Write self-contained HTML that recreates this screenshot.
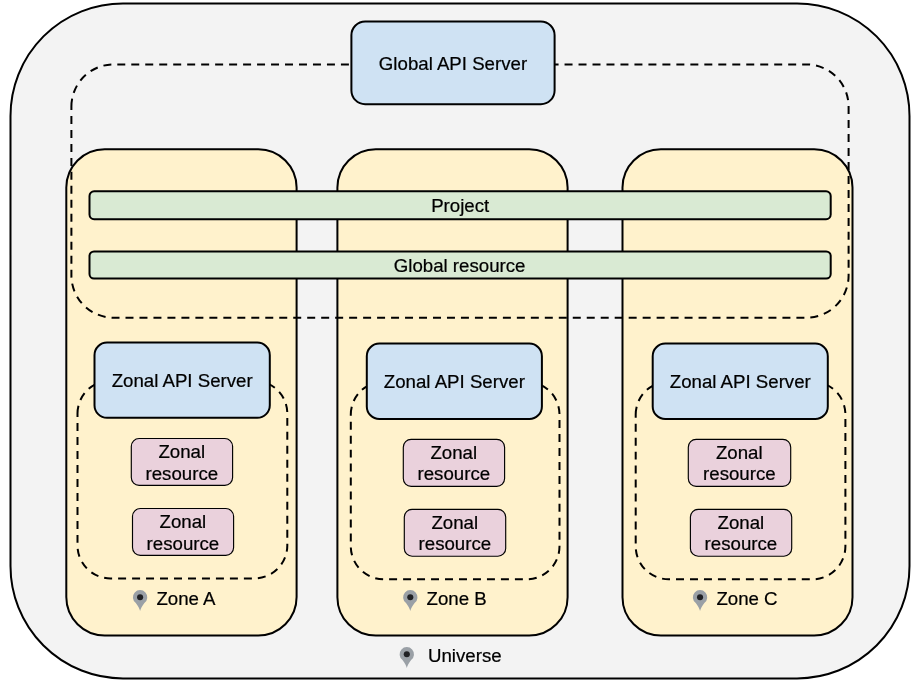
<!DOCTYPE html>
<html><head><meta charset="utf-8"><title>Universe</title>
<style>html,body{margin:0;padding:0;background:#fff}svg{display:block;will-change:transform}text{font-family:"Liberation Sans",Arial,sans-serif;font-size:18.67px;fill:#000;text-anchor:middle;stroke:#000;stroke-width:0.22px;stroke-linejoin:round}</style></head><body>
<svg width="919" height="684" viewBox="0 0 919 684">
<path d="M10.50 115.95A112.50 112.50 0 0 1 123.00 3.45H797.00A112.50 112.50 0 0 1 909.50 115.95V565.95A112.50 112.50 0 0 1 797.00 678.45H123.00A112.50 112.50 0 0 1 10.50 565.95Z" fill="#f3f3f3" stroke="#000" stroke-width="2"/>
<path d="M66.30 187.58A38.38 38.38 0 0 1 104.68 149.20H258.22A38.38 38.38 0 0 1 296.60 187.58V597.12A38.38 38.38 0 0 1 258.22 635.50H104.68A38.38 38.38 0 0 1 66.30 597.12Z" fill="#fff2cc" stroke="#000" stroke-width="2"/>
<path d="M337.40 187.57A38.37 38.37 0 0 1 375.77 149.20H529.23A38.37 38.37 0 0 1 567.60 187.57V597.13A38.37 38.37 0 0 1 529.23 635.50H375.77A38.37 38.37 0 0 1 337.40 597.13Z" fill="#fff2cc" stroke="#000" stroke-width="2"/>
<path d="M622.50 187.53A38.33 38.33 0 0 1 660.83 149.20H814.17A38.33 38.33 0 0 1 852.50 187.53V597.17A38.33 38.33 0 0 1 814.17 635.50H660.83A38.33 38.33 0 0 1 622.50 597.17Z" fill="#fff2cc" stroke="#000" stroke-width="2"/>
<path d="M71.40 106.62A42.22 42.22 0 0 1 113.62 64.40H806.38A42.22 42.22 0 0 1 848.60 106.62V275.48A42.22 42.22 0 0 1 806.38 317.70H113.62A42.22 42.22 0 0 1 71.40 275.48Z" fill="none" stroke="#000" stroke-width="2" stroke-dasharray="7.987 5.99"/>
<path d="M351.40 35.20A13.80 13.80 0 0 1 365.20 21.40H540.80A13.80 13.80 0 0 1 554.60 35.20V90.40A13.80 13.80 0 0 1 540.80 104.20H365.20A13.80 13.80 0 0 1 351.40 90.40Z" fill="#cfe2f3" stroke="#000" stroke-width="2"/>
<text x="453.00" y="69.60">Global API Server</text>
<path d="M89.50 195.95A4.65 4.65 0 0 1 94.15 191.30H826.05A4.65 4.65 0 0 1 830.70 195.95V214.55A4.65 4.65 0 0 1 826.05 219.20H94.15A4.65 4.65 0 0 1 89.50 214.55Z" fill="#d9ead3" stroke="#000" stroke-width="2"/>
<text x="460.20" y="212.20">Project</text>
<path d="M89.50 256.00A4.50 4.50 0 0 1 94.00 251.50H826.20A4.50 4.50 0 0 1 830.70 256.00V274.00A4.50 4.50 0 0 1 826.20 278.50H94.00A4.50 4.50 0 0 1 89.50 274.00Z" fill="#d9ead3" stroke="#000" stroke-width="2"/>
<text x="459.60" y="271.70">Global resource</text>
<path d="M77.50 413.57A32.97 32.97 0 0 1 110.47 380.60H254.33A32.97 32.97 0 0 1 287.30 413.57V545.43A32.97 32.97 0 0 1 254.33 578.40H110.47A32.97 32.97 0 0 1 77.50 545.43Z" fill="none" stroke="#000" stroke-width="2" stroke-dasharray="7.987 5.99"/>
<path d="M94.50 355.13A12.53 12.53 0 0 1 107.03 342.60H257.27A12.53 12.53 0 0 1 269.80 355.13V405.27A12.53 12.53 0 0 1 257.27 417.80H107.03A12.53 12.53 0 0 1 94.50 405.27Z" fill="#cfe2f3" stroke="#000" stroke-width="2"/>
<text x="182.15" y="386.80">Zonal API Server</text>
<path d="M131.30 446.32A7.82 7.82 0 0 1 139.12 438.50H224.78A7.82 7.82 0 0 1 232.60 446.32V477.58A7.82 7.82 0 0 1 224.78 485.40H139.12A7.82 7.82 0 0 1 131.30 477.58Z" fill="#ead1dc" stroke="#000" stroke-width="1.15"/>
<text x="181.75" y="457.70">Zonal</text>
<text x="181.80" y="479.55">resource</text>
<path d="M132.50 516.32A7.82 7.82 0 0 1 140.32 508.50H225.78A7.82 7.82 0 0 1 233.60 516.32V547.58A7.82 7.82 0 0 1 225.78 555.40H140.32A7.82 7.82 0 0 1 132.50 547.58Z" fill="#ead1dc" stroke="#000" stroke-width="1.15"/>
<text x="182.85" y="527.70">Zonal</text>
<text x="182.90" y="549.55">resource</text>
<g transform="translate(132.90,590.00)"><path d="M7.2 20.9C6.65 18.8 5.2 16.2 2.9 13A7.2 7.2 0 1 1 11.5 13C9.2 16.2 7.75 18.8 7.2 20.9Z" fill="#9aa0a6"/><circle cx="7.2" cy="7.2" r="3.05" fill="#202124"/></g>
<text x="156.40" y="604.8" style="text-anchor:start">Zone A</text>
<path d="M350.80 414.55A32.95 32.95 0 0 1 383.75 381.60H526.55A32.95 32.95 0 0 1 559.50 414.55V546.35A32.95 32.95 0 0 1 526.55 579.30H383.75A32.95 32.95 0 0 1 350.80 546.35Z" fill="none" stroke="#000" stroke-width="2" stroke-dasharray="7.987 5.99"/>
<path d="M366.80 356.17A12.57 12.57 0 0 1 379.37 343.60H529.33A12.57 12.57 0 0 1 541.90 356.17V406.43A12.57 12.57 0 0 1 529.33 419.00H379.37A12.57 12.57 0 0 1 366.80 406.43Z" fill="#cfe2f3" stroke="#000" stroke-width="2"/>
<text x="454.35" y="388.20">Zonal API Server</text>
<path d="M403.30 447.15A7.85 7.85 0 0 1 411.15 439.30H496.75A7.85 7.85 0 0 1 504.60 447.15V478.55A7.85 7.85 0 0 1 496.75 486.40H411.15A7.85 7.85 0 0 1 403.30 478.55Z" fill="#ead1dc" stroke="#000" stroke-width="1.15"/>
<text x="453.75" y="458.50">Zonal</text>
<text x="453.80" y="480.35">resource</text>
<path d="M404.30 517.12A7.82 7.82 0 0 1 412.12 509.30H497.88A7.82 7.82 0 0 1 505.70 517.12V548.38A7.82 7.82 0 0 1 497.88 556.20H412.12A7.82 7.82 0 0 1 404.30 548.38Z" fill="#ead1dc" stroke="#000" stroke-width="1.15"/>
<text x="454.80" y="528.50">Zonal</text>
<text x="454.85" y="550.35">resource</text>
<g transform="translate(403.10,590.00)"><path d="M7.2 20.9C6.65 18.8 5.2 16.2 2.9 13A7.2 7.2 0 1 1 11.5 13C9.2 16.2 7.75 18.8 7.2 20.9Z" fill="#9aa0a6"/><circle cx="7.2" cy="7.2" r="3.05" fill="#202124"/></g>
<text x="426.50" y="604.8" style="text-anchor:start">Zone B</text>
<path d="M635.70 414.55A32.95 32.95 0 0 1 668.65 381.60H812.45A32.95 32.95 0 0 1 845.40 414.55V546.35A32.95 32.95 0 0 1 812.45 579.30H668.65A32.95 32.95 0 0 1 635.70 546.35Z" fill="none" stroke="#000" stroke-width="2" stroke-dasharray="7.987 5.99"/>
<path d="M652.70 356.17A12.57 12.57 0 0 1 665.27 343.60H815.23A12.57 12.57 0 0 1 827.80 356.17V406.43A12.57 12.57 0 0 1 815.23 419.00H665.27A12.57 12.57 0 0 1 652.70 406.43Z" fill="#cfe2f3" stroke="#000" stroke-width="2"/>
<text x="740.25" y="388.20">Zonal API Server</text>
<path d="M688.30 447.15A7.85 7.85 0 0 1 696.15 439.30H782.85A7.85 7.85 0 0 1 790.70 447.15V478.55A7.85 7.85 0 0 1 782.85 486.40H696.15A7.85 7.85 0 0 1 688.30 478.55Z" fill="#ead1dc" stroke="#000" stroke-width="1.15"/>
<text x="739.30" y="458.50">Zonal</text>
<text x="739.35" y="480.35">resource</text>
<path d="M690.40 517.12A7.82 7.82 0 0 1 698.22 509.30H783.88A7.82 7.82 0 0 1 791.70 517.12V548.38A7.82 7.82 0 0 1 783.88 556.20H698.22A7.82 7.82 0 0 1 690.40 548.38Z" fill="#ead1dc" stroke="#000" stroke-width="1.15"/>
<text x="740.85" y="528.50">Zonal</text>
<text x="740.90" y="550.35">resource</text>
<g transform="translate(692.85,590.00)"><path d="M7.2 20.9C6.65 18.8 5.2 16.2 2.9 13A7.2 7.2 0 1 1 11.5 13C9.2 16.2 7.75 18.8 7.2 20.9Z" fill="#9aa0a6"/><circle cx="7.2" cy="7.2" r="3.05" fill="#202124"/></g>
<text x="716.40" y="604.8" style="text-anchor:start">Zone C</text>
<g transform="translate(399.60,647.00)"><path d="M7.2 20.9C6.65 18.8 5.2 16.2 2.9 13A7.2 7.2 0 1 1 11.5 13C9.2 16.2 7.75 18.8 7.2 20.9Z" fill="#9aa0a6"/><circle cx="7.2" cy="7.2" r="3.05" fill="#202124"/></g>
<text x="428" y="661.9" style="text-anchor:start">Universe</text>
</svg>
</body></html>
